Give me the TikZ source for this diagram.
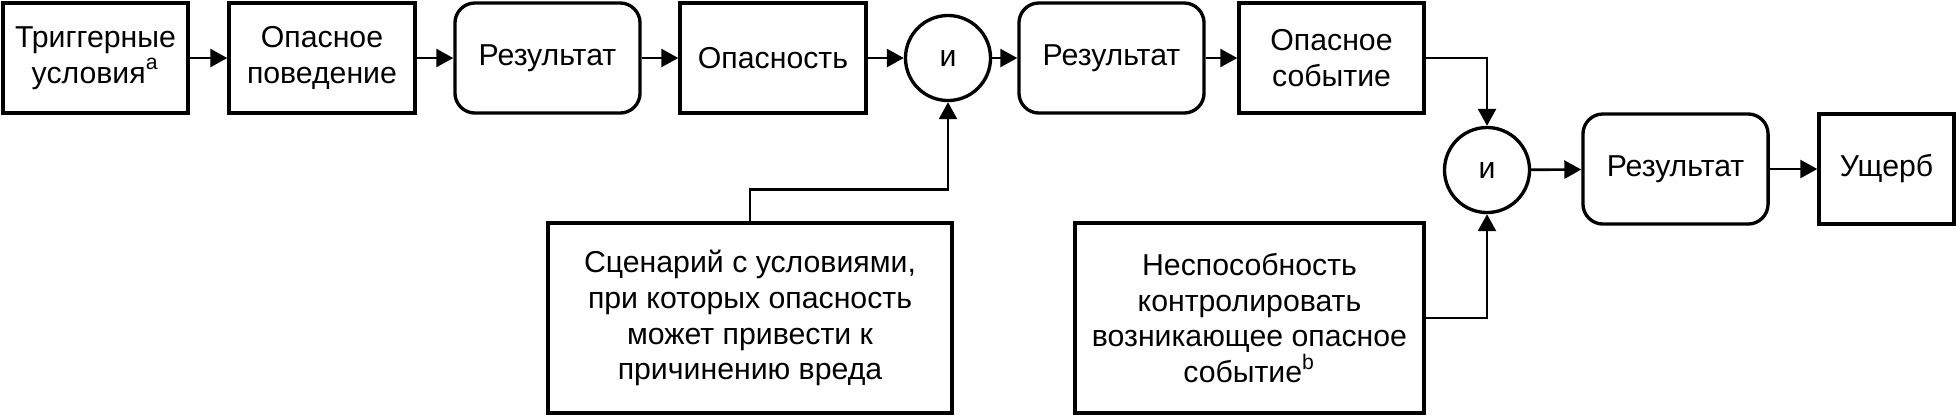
\documentclass[tikz,border=0pt]{standalone}
\usepackage{fontspec}
\setmainfont{Liberation Sans}
\usetikzlibrary{arrows.meta,calc}
\begin{document}
\begin{tikzpicture}[x=0.01cm,y=-0.01cm,
  every node/.style={font=\fontsize{8.6pt}{10.2pt}\selectfont, align=center, inner sep=0pt},
  box/.style={draw, line width=0.95pt, rectangle, minimum height=1.10cm},
  rbox/.style={box, rounded corners=0.2cm},
  andgate/.style={draw, line width=0.95pt, circle, minimum size=0.85cm},
  arr/.style={line width=0.75pt, -{Triangle[length=0.17cm,width=0.18cm]}}
]
\useasboundingbox (0,0) rectangle (1958,417);
\node[box, minimum width=1.85cm] (b1) at (95.5,58) {Триггерные\\условия\textsuperscript{a}};
\node[box, minimum width=1.86cm] (b2) at (322,58) {Опасное\\поведение};
\node[rbox, minimum width=1.85cm] (b3) at (547.5,58) {Результат};
\node[box, minimum width=1.86cm] (b4) at (773,58) {Опасность};
\node[andgate] (c1) at (948,58) {и};
\node[rbox, minimum width=1.85cm] (b5) at (1111.5,58) {Результат};
\node[box, minimum width=1.85cm] (b6) at (1331.5,58) {Опасное\\событие};
\node[andgate] (c2) at (1487,170) {и};
\node[rbox, minimum width=1.85cm] (b7) at (1675.5,169) {Результат};
\node[box, minimum width=1.35cm] (b8) at (1886.5,169) {Ущерб};
\node[box, minimum width=4.04cm, minimum height=1.90cm] (s1) at (750,318)
  {Сценарий с условиями,\\при которых опасность\\может привести к\\причинению вреда};
\node[box, minimum width=3.49cm, minimum height=1.90cm] (s2) at (1249.5,318)
  {Неспособность\\контролировать\\возникающее опасное\\событие\textsuperscript{b}};

\draw[arr] (b1) -- (b2);
\draw[arr] (b2) -- (b3);
\draw[arr] (b3) -- (b4);
\draw[arr] (b4) -- (c1);
\draw[arr] (c1) -- (b5);
\draw[arr] (b5) -- (b6);
\draw[arr] (b6.east) -| (c2.north);
\draw[arr] (c2) -- (b7);
\draw[arr] (b7) -- (b8);
\draw[arr] (s1.north) -- ++(0,-32) -| (c1.south);
\draw[arr] (s2.east) -| (c2.south);
\end{tikzpicture}
\end{document}
